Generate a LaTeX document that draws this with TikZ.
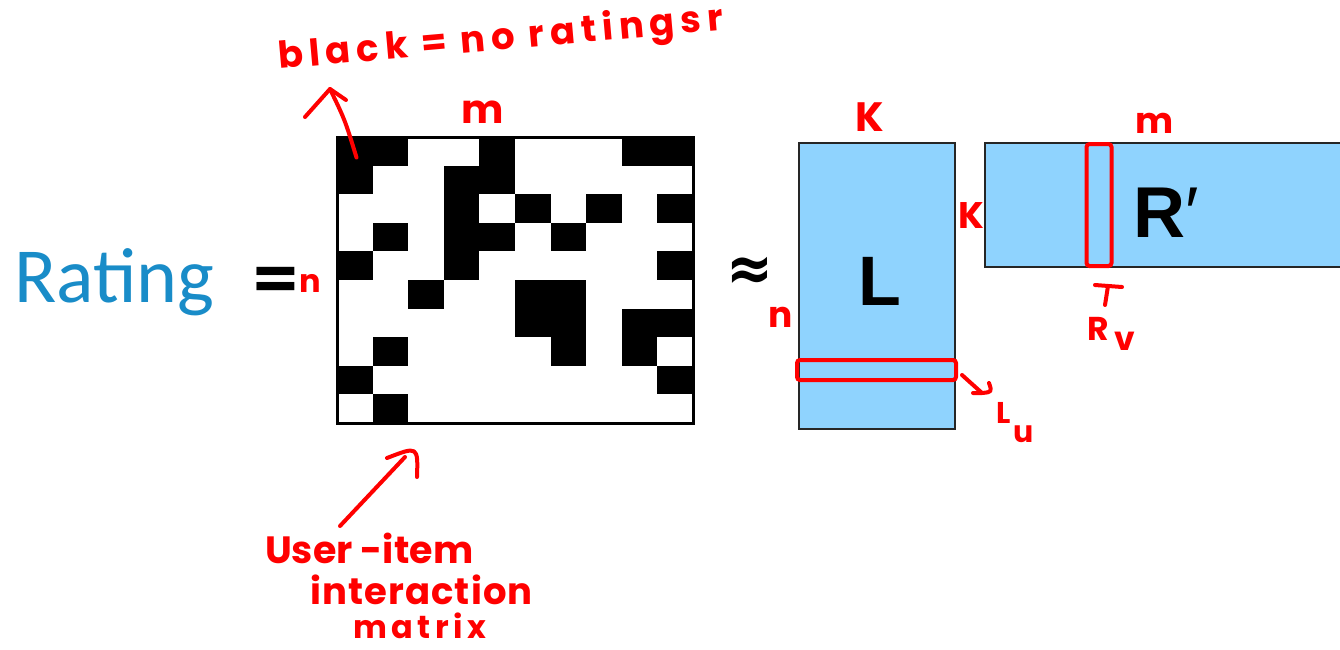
\documentclass[tikz,border=0pt]{standalone}
\usepackage{fontspec}
\setmainfont{Carlito}
\newfontfamily\hand{Poppins}
\newfontfamily\boldsans{Liberation Sans}
\newfontfamily\dejavu{DejaVu Sans}
\definecolor{ratingblue}{RGB}{25,140,200}
\definecolor{matblue}{RGB}{143,211,254}
\definecolor{pen}{RGB}{255,0,0}
\begin{document}
\begin{tikzpicture}[x=1pt,y=-1pt,
  pentext/.style={text=pen, inner sep=0},
  penline/.style={draw=pen, line width=4pt, line cap=round, line join=round},
  factor/.style={draw=black!85, line width=2.5pt, fill=matblue, inner sep=0},
  penbox/.style={draw=pen, line width=4pt, rounded corners=3pt, inner sep=0},
]
\clip (0,0) rectangle (1340,649);
\fill[white] (0,0) rectangle (1340,649);

% Rating =
\node[text=ratingblue, font=\fontsize{78}{80}\selectfont, anchor=base west, inner sep=0] (rating) at (14,302) {Rating};
\node[font=\bfseries\fontsize{90}{90}\selectfont, inner sep=0] (eq) at (276,287) {=};

% interaction matrix cells
\foreach \r/\cs in {0/{0,1,4,8,9},1/{0,3,4},2/{3,5,7,9},3/{1,3,4,6},4/{0,3,9},5/{2,5,6},6/{5,6,8,9},7/{1,6,8},8/{0,9},9/{1}}{
  \foreach \c in \cs {
    \fill[black] (337+\c*35.6,137+\r*28.6) rectangle ++(35.6,28.6);
  }
}
\node[draw=black, line width=3pt, minimum width=356pt, minimum height=286pt, inner sep=0] (M) at (515,280) {};

% approx
\node[font=\dejavu\bfseries\fontsize{56}{56}\selectfont, inner sep=0, yscale=1.15] (approx) at (750,274) {≈};

% factor matrices
\node[factor, minimum width=156pt, minimum height=286pt] (L) at (877,286) {};
\node[font=\boldsans\bfseries\fontsize{70}{70}\selectfont, inner sep=0, anchor=base] (Llab) at (880,305) {L};
\node[factor, minimum width=380pt, minimum height=124pt] (R) at (1175,205) {};
\node[font=\boldsans\bfseries\fontsize{72}{72}\selectfont, inner sep=0, anchor=base west] (Rlab) at (1133,237) {R\mdseries′};

% red highlight boxes
\node[penbox, minimum width=159pt, minimum height=20pt] (Lu) at (876.5,370) {};
\node[penbox, minimum width=25pt, minimum height=122pt] (Rv) at (1099,205) {};

% handwritten labels
\node[pentext, font=\hand\bfseries\fontsize{37}{40}\selectfont\addfontfeature{LetterSpace=16}, anchor=base west, rotate=5] (note) at (279,69) {black = no ratingsr};
\node[pentext, font=\hand\bfseries\fontsize{40}{40}\selectfont, anchor=base] (mtop) at (483,123) {m};
\node[pentext, font=\hand\bfseries\fontsize{32}{32}\selectfont, anchor=base] (nleft) at (310,292) {n};
\node[pentext, font=\hand\bfseries\fontsize{36}{36}\selectfont, anchor=base] (nL) at (781,327) {n};
\node[pentext, font=\hand\bfseries\fontsize{41}{41}\selectfont, anchor=base] (Ktop) at (870,131) {K};
\node[pentext, font=\hand\bfseries\fontsize{37}{37}\selectfont, anchor=base] (Kright) at (971,228) {K};
\node[pentext, font=\hand\bfseries\fontsize{36}{36}\selectfont, anchor=base] (mR) at (1155,133) {m};
\node[pentext, font=\hand\bfseries\fontsize{30}{30}\selectfont, anchor=base west] (lulab) at (996,423) {L\hspace{3pt}\raisebox{-19pt}{u}};
\node[pentext, font=\hand\bfseries\fontsize{33}{33}\selectfont, anchor=base west] (rvlab) at (1087,340) {R\hspace{6pt}\raisebox{-10pt}{v}};
\node[pentext, font=\hand\bfseries\fontsize{38}{40}\selectfont, anchor=base west] (ui1) at (265,563) {User -item};
\node[pentext, font=\hand\bfseries\fontsize{37}{40}\selectfont\addfontfeature{LetterSpace=3}, anchor=base west] (ui2) at (310,604) {interaction};
\node[pentext, font=\hand\bfseries\fontsize{32}{34}\selectfont\addfontfeature{LetterSpace=14}, anchor=base west] (ui3) at (353,638) {matrix};

% arrows
\coordinate (blackstart) at ([shift={(21,22)}]M.north west);
\coordinate (blacktip) at (330,89);
\draw[penline] (blackstart) .. controls (345,120) .. (blacktip);
\draw[penline] (305,117) -- (blacktip) -- (346,100);

\coordinate (uistart) at (340,526);
\coordinate (uitip) at (405,457);
\draw[penline] (uistart) -- (uitip);
\draw[penline] (387,458) .. controls (418,446) .. (417,477);

\coordinate (lutip) at (982,393);
\draw[penline] ([shift={(4,5)}]Lu.east) -- (lutip);
\draw[penline] (973,393) -- (lutip) .. controls (992,392) .. (989,383);

\draw[penline] ([shift={(-4,17)}]Rv.south) -- ([shift={(23,19)}]Rv.south);
\draw[penline] ([shift={(9,18)}]Rv.south) -- ([shift={(6,37)}]Rv.south);
\end{tikzpicture}
\end{document}
